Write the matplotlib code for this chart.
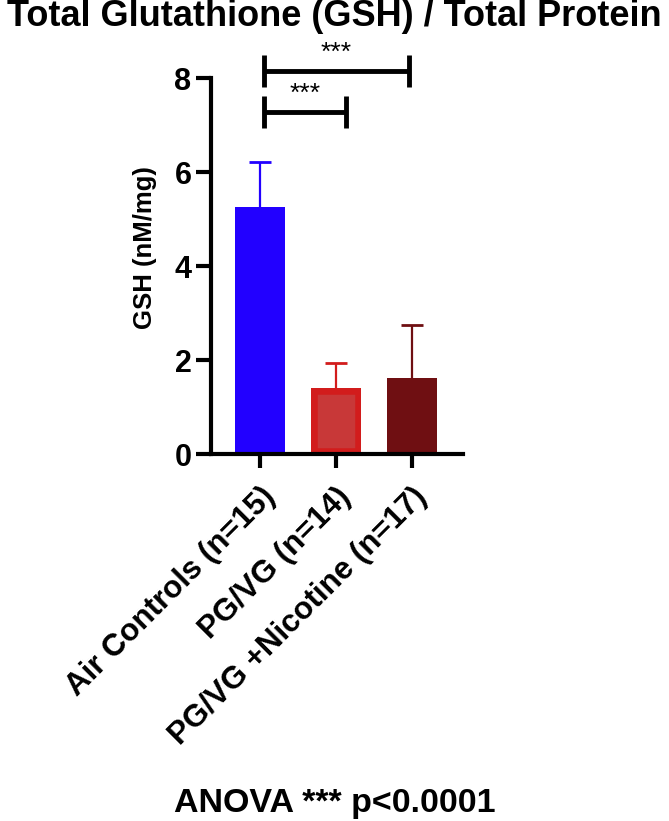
import matplotlib
matplotlib.use("Agg")
import matplotlib.pyplot as plt

plt.rcParams['font.family'] = ['Liberation Sans', 'DejaVu Sans']
plt.rcParams['font.weight'] = 'bold'

categories = ["Air Controls (n=15)", "PG/VG (n=14)", "PG/VG +Nicotine (n=17)"]
means = [5.26, 1.40, 1.62]
sd_upper = [0.95, 0.53, 1.12]
fill_colors = ["#2200ff", "#c83838", "#6f0f12"]
edge_colors = ["#2200ff", "#d21c1c", "#6f0f12"]
edge_widths = [0.0, 9.0, 0.0]
# significance comparisons: (x_start, x_end, height, label)
sig_pairs = [(0, 1, 7.28, "***"), (0, 2, 8.15, "***")]

fig = plt.figure(figsize=(6.69, 8.21), dpi=100)
ax = fig.add_axes([211/669, 1-454/821, (463-211)/669, (454-78)/821])

x = list(range(len(categories)))
for i in x:
    bars = ax.bar(i, means[i], width=0.66, color=fill_colors[i], edgecolor=edge_colors[i],
                  linewidth=edge_widths[i], zorder=2)
    for p in bars.patches:
        p.set_clip_path(p)
    _, caps, _ = ax.errorbar(i, means[i], yerr=[[0], [sd_upper[i]]], fmt='none',
                             ecolor=edge_colors[i], elinewidth=1.6, capsize=8,
                             capthick=2, zorder=1)
    for c in caps:
        yd = list(c.get_ydata())
        if abs(yd[0] - means[i]) < 1e-9:
            c.set_visible(False)

ax.set_xlim(-0.65, 2.68)
ax.set_ylim(0, 8)
ax.set_yticks([0, 2, 4, 6, 8])
ax.set_xticks(x)
ax.set_xticklabels(categories, rotation=45, ha='right', rotation_mode='anchor',
                   fontsize=22.5, fontweight='bold')
ax.tick_params(axis='y', labelsize=22, width=3, length=11, pad=3)
ax.tick_params(axis='x', width=3, length=10, pad=10)
for lab in ax.get_yticklabels():
    lab.set_fontweight('bold')
for s in ['top', 'right']:
    ax.spines[s].set_visible(False)
for s in ['left', 'bottom']:
    ax.spines[s].set_linewidth(3)
ax.set_ylabel("GSH (nM/mg)", fontsize=18.5, fontweight='bold')
ax.yaxis.set_label_coords(-0.215, 0.55)

# significance bars
offs = 0.05
for (a, b, h, lab) in sig_pairs:
    xa = a + offs
    xb = b + (0.13 if b == 1 else -0.03)
    ax.plot([xa, xb], [h, h], color='black', lw=3.5, clip_on=False, solid_capstyle='butt')
    ax.plot([xa, xa], [h - 0.34, h + 0.34], color='black', lw=3.5, clip_on=False, solid_capstyle='butt')
    ax.plot([xb, xb], [h - 0.34, h + 0.34], color='black', lw=3.5, clip_on=False, solid_capstyle='butt')
    ax.text((xa + xb) / 2, h + 0.12, lab, ha='center', va='bottom', fontsize=19,
            fontweight='normal', clip_on=False)

fig.text(0.5, 1 - 17/821, "Total Glutathione (GSH) / Total Protein", ha='center', va='center',
         fontsize=26, fontweight='bold')
fig.text(0.5, 1 - 803/821, "ANOVA *** p<0.0001", ha='center', va='center',
         fontsize=24.5, fontweight='bold')

fig.savefig("out.png", dpi=100)
